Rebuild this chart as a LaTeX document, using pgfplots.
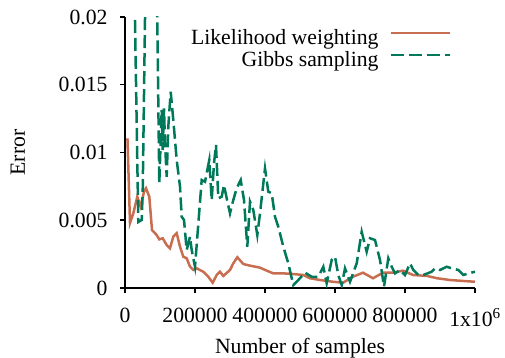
\documentclass[border=0pt]{standalone}
\usepackage{fontspec}
\setmainfont{Liberation Serif}
\usepackage{pgfplots}
\usepackage{pgfplotstable}
\pgfplotsset{compat=1.18}
\definecolor{lw}{RGB}{200,110,80}
\definecolor{gs}{RGB}{0,121,90}
\pgfplotstableread{
x y
7000 0.01105
14286 0.00480
23714 0.00551
35143 0.00674
44857 0.00600
54286 0.00711
60000 0.00736
69429 0.00674
77143 0.00428
90571 0.00391
98000 0.00359
107714 0.00367
119143 0.00317
128571 0.00293
138000 0.00379
147714 0.00404
157143 0.00305
166571 0.00231
176286 0.00219
185714 0.00157
195143 0.00133
204857 0.00145
223714 0.00120
238000 0.00083
250571 0.00039
262000 0.00096
271429 0.00120
280857 0.00089
300000 0.00133
309429 0.00182
320857 0.00227
338000 0.00177
357143 0.00165
385714 0.00150
404857 0.00128
423714 0.00108
452286 0.00108
480857 0.00103
509429 0.00096
528571 0.00072
557143 0.00059
594286 0.00046
622857 0.00039
651429 0.00083
680000 0.00113
708571 0.00072
737143 0.00113
765714 0.00113
794286 0.00128
822857 0.00096
862857 0.00089
891429 0.00072
928571 0.00059
965714 0.00052
1000000 0.00046
}\lwdata
\pgfplotstableread{
x y
10000 0.049
38000 0.00487
47714 0.00502
50571 0.00708
65000 0.035
85000 0.035
98000 0.00773
102000 0.01092
104857 0.01314
107714 0.01018
111429 0.01326
114286 0.01070
119143 0.00821
123714 0.01190
130571 0.01449
138000 0.01240
147714 0.00945
157143 0.00748
162000 0.00526
168571 0.00502
176286 0.00280
185714 0.00379
190571 0.00280
200000 0.00157
219143 0.00797
228571 0.00784
235143 0.00871
240857 0.00945
247714 0.00649
254286 0.00920
260000 0.01055
266571 0.00662
276286 0.00674
282857 0.00760
290571 0.00662
300000 0.00551
309429 0.00649
319143 0.00736
330571 0.00797
340000 0.00649
349429 0.00305
357143 0.00637
366571 0.00576
378000 0.00391
385714 0.00551
400000 0.00883
409429 0.00711
419143 0.00699
428571 0.00526
438000 0.00452
452286 0.00305
466571 0.00182
480857 0.00022
495143 0.00059
514286 0.00113
533429 0.00083
552286 0.00083
566571 0.00157
576286 0.00035
590571 0.00207
600000 0.00231
609429 0.00096
619143 0.00022
628571 0.00145
642857 0.00046
662000 0.00182
676286 0.00415
690571 0.00268
700000 0.00367
714286 0.00354
728571 0.00207
740000 0.00010
752286 0.00219
762000 0.00157
771429 0.00108
785714 0.00133
800000 0.00096
814286 0.00182
823714 0.00133
838000 0.00096
852286 0.00096
876286 0.00120
885714 0.00145
900000 0.00133
919143 0.00157
933429 0.00145
952286 0.00133
966571 0.00096
980857 0.00108
1000000 0.00120
}\gsdata
\begin{document}
\begin{tikzpicture}[font=\fontsize{21.7bp}{24bp}\selectfont]
\path[use as bounding box] (-125bp,-70bp) rectangle (380bp,288bp);
\begin{axis}[
 at={(0,0)}, anchor=south west,
 scale only axis, width=350bp, height=271bp,
 xmin=0, xmax=1000000, ymin=0, ymax=0.02,
 axis lines=left,
 axis line style={line width=2.5bp, -},
 tick align=outside, tick style={black, line width=1.5bp}, major tick length=5bp,
 xtick={0,200000,400000,600000,800000,1000000},
 xticklabels={0,200000,400000,600000,800000,1x10\textsuperscript{6}},
 ytick={0,0.005,0.01,0.015,0.02},
 yticklabels={0,0.005,0.01,0.015,0.02},
 xticklabel style={yshift=-12bp},
 yticklabel style={xshift=-9bp},
 scaled x ticks=false, scaled y ticks=false,
 xlabel={Number of samples}, ylabel={Error},
 xlabel style={at={(axis description cs:0.5,-0.240)}, anchor=base},
 ylabel style={at={(axis description cs:-0.306,0.5)}, anchor=center},
 legend style={draw=none, fill=none, inner sep=0pt, at={(rel axis cs:0.932,0.956)}, anchor=north east, legend cell align=right, row sep=2bp, column sep=11bp, nodes={inner sep=0pt, text height=15bp, text depth=5bp}},
 legend plot pos=right,
 legend image code/.code={\draw[#1] (0bp,6bp) -- (59bp,6bp);},
]
\addplot[lw, line width=2.5bp, no markers] table[x=x,y=y] {\lwdata};
\addlegendentry{Likelihood weighting}
\addplot[gs, line width=2.5bp, no markers, dash pattern=on 13bp off 5bp] table[x=x,y=y] {\gsdata};
\addlegendentry{Gibbs sampling}
\end{axis}
\end{tikzpicture}
\end{document}
